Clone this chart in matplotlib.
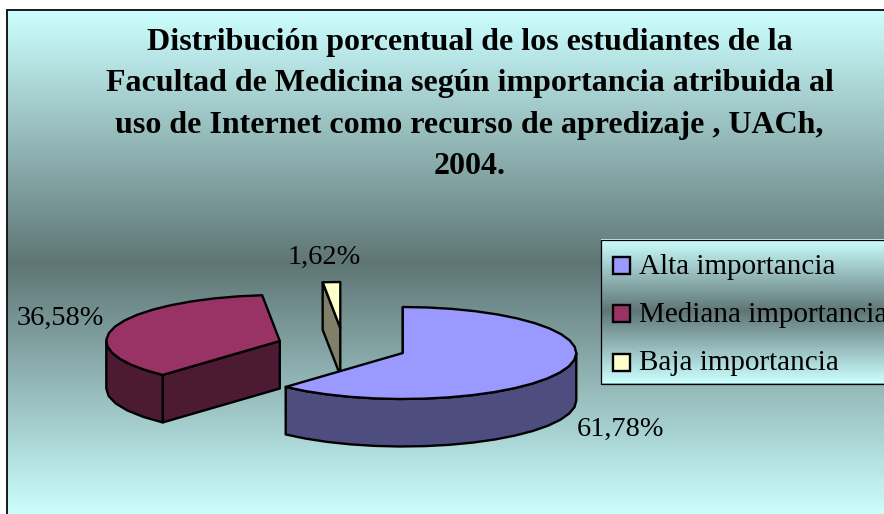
import numpy as np
import matplotlib
matplotlib.use("Agg")
import matplotlib.pyplot as plt
from matplotlib.colors import LinearSegmentedColormap
from matplotlib.patches import Polygon, Rectangle

plt.rcParams['font.family'] = ['Liberation Serif', 'DejaVu Serif']

# ---- data ----
categories = ["Alta importancia", "Mediana importancia", "Baja importancia"]
values = [61.78, 36.58, 1.62]
value_labels = ["61,78%", "36,58%", "1,62%"]
title = ("Distribución porcentual de los estudiantes de la\n"
         "Facultad de Medicina según importancia atribuida al\n"
         "uso de Internet como recurso de apredizaje , UACh,\n"
         "2004.")

# ---- style / layout ----
top_colors = ["#9999FF", "#993366", "#FFFFCC"]
side_colors = ["#4D4D80", "#4D1A33", "#80806A"]
center = (402.8, 353.0)
rx, ry, depth = 173.5, 46.0, 47.5
offsets = [(0, 0), (-123, -12), (-62.5, -25)]      # exploded slices, px
label_xy = [(621, 429.5), (60.5, 318.5), (324, 257.5)]
draw_order = [2, 1, 0]
W, H = 884, 514

grad = LinearSegmentedColormap.from_list(
    "g", ["#CCFFFF", "#5F7575", "#CCFFFF"])

fig = plt.figure(figsize=(W / 100, H / 100), dpi=100, facecolor="white")
ax = fig.add_axes([0, 0, 1, 1])
ax.axis("off")

def gradient(x0, y0, x1, y1, z):
    v = np.linspace(0, 1, 256)
    ax.imshow(v[:, None], cmap=grad, vmin=0, vmax=1, extent=(x0, x1, y1, y0),
              aspect="auto", zorder=z, interpolation="bilinear")

gradient(6, 10, W + 2, H + 2, 0)
ax.plot([6.5, 6.5, W + 2], [H + 2, 9.5, 9.5], color="#1a1a1a", lw=1.4, zorder=1,
        solid_joinstyle="miter")

ax.text(469.5, 104.5, title, ha="center", va="center", fontsize=23.0,
        fontweight="bold", linespacing=1.56, color="black", zorder=5)

# ---- pie ----
def pt(c, deg):
    a = np.radians(deg)
    return c[0] + rx * np.sin(a), c[1] - ry * np.cos(a)

edges = np.concatenate([[0], np.cumsum(values) / np.sum(values) * 360])
for n, i in enumerate(draw_order):
    t0, t1 = edges[i], edges[i + 1]
    c = (center[0] + offsets[i][0], center[1] + offsets[i][1])
    style = dict(edgecolor="black", lw=1.7, joinstyle="round", zorder=3 + 0.1 * n)
    # cut face at the starting angle
    p0 = pt(c, t0)
    ax.add_patch(Polygon([c, p0, (p0[0], p0[1] + depth), (c[0], c[1] + depth)],
                         facecolor=side_colors[i], **style))
    # outer rim facing the viewer
    a, b = max(t0, 90), min(t1, 270)
    if b > a:
        th = np.linspace(a, b, max(2, int((b - a) / 8) + 1))
        up = [pt(c, d) for d in th]
        down = [(x, y + depth) for x, y in up[::-1]]
        ax.add_patch(Polygon(up + down, facecolor=side_colors[i], **style))
    # top face
    th = np.linspace(t0, t1, max(2, int((t1 - t0) / 8) + 1))
    ax.add_patch(Polygon([c] + [pt(c, d) for d in th], facecolor=top_colors[i], **style))

for (x, y), s in zip(label_xy, value_labels):
    ax.text(x, y, s, ha="center", va="center", fontsize=20.4, color="black", zorder=6)

# ---- legend ----
gradient(600.5, 239.5, W + 2, 383.5, 7)
ax.plot([W + 2, 600.5, 600.5, W + 2], [239.5, 239.5, 383.5, 383.5],
        color="black", lw=0.9, zorder=8)
for name, col, y, base in zip(categories, top_colors, [265, 313.5, 362], [274, 322, 370.5]):
    ax.add_patch(Rectangle((613, y - 8.5), 17, 17, facecolor=col, edgecolor="black",
                           lw=1.7, zorder=9))
    ax.text(639, base, name, ha="left", va="baseline", fontsize=21, color="black", zorder=9)

ax.set_xlim(0, W)
ax.set_ylim(H, 0)
fig.savefig("out.png", dpi=100, facecolor="white")
